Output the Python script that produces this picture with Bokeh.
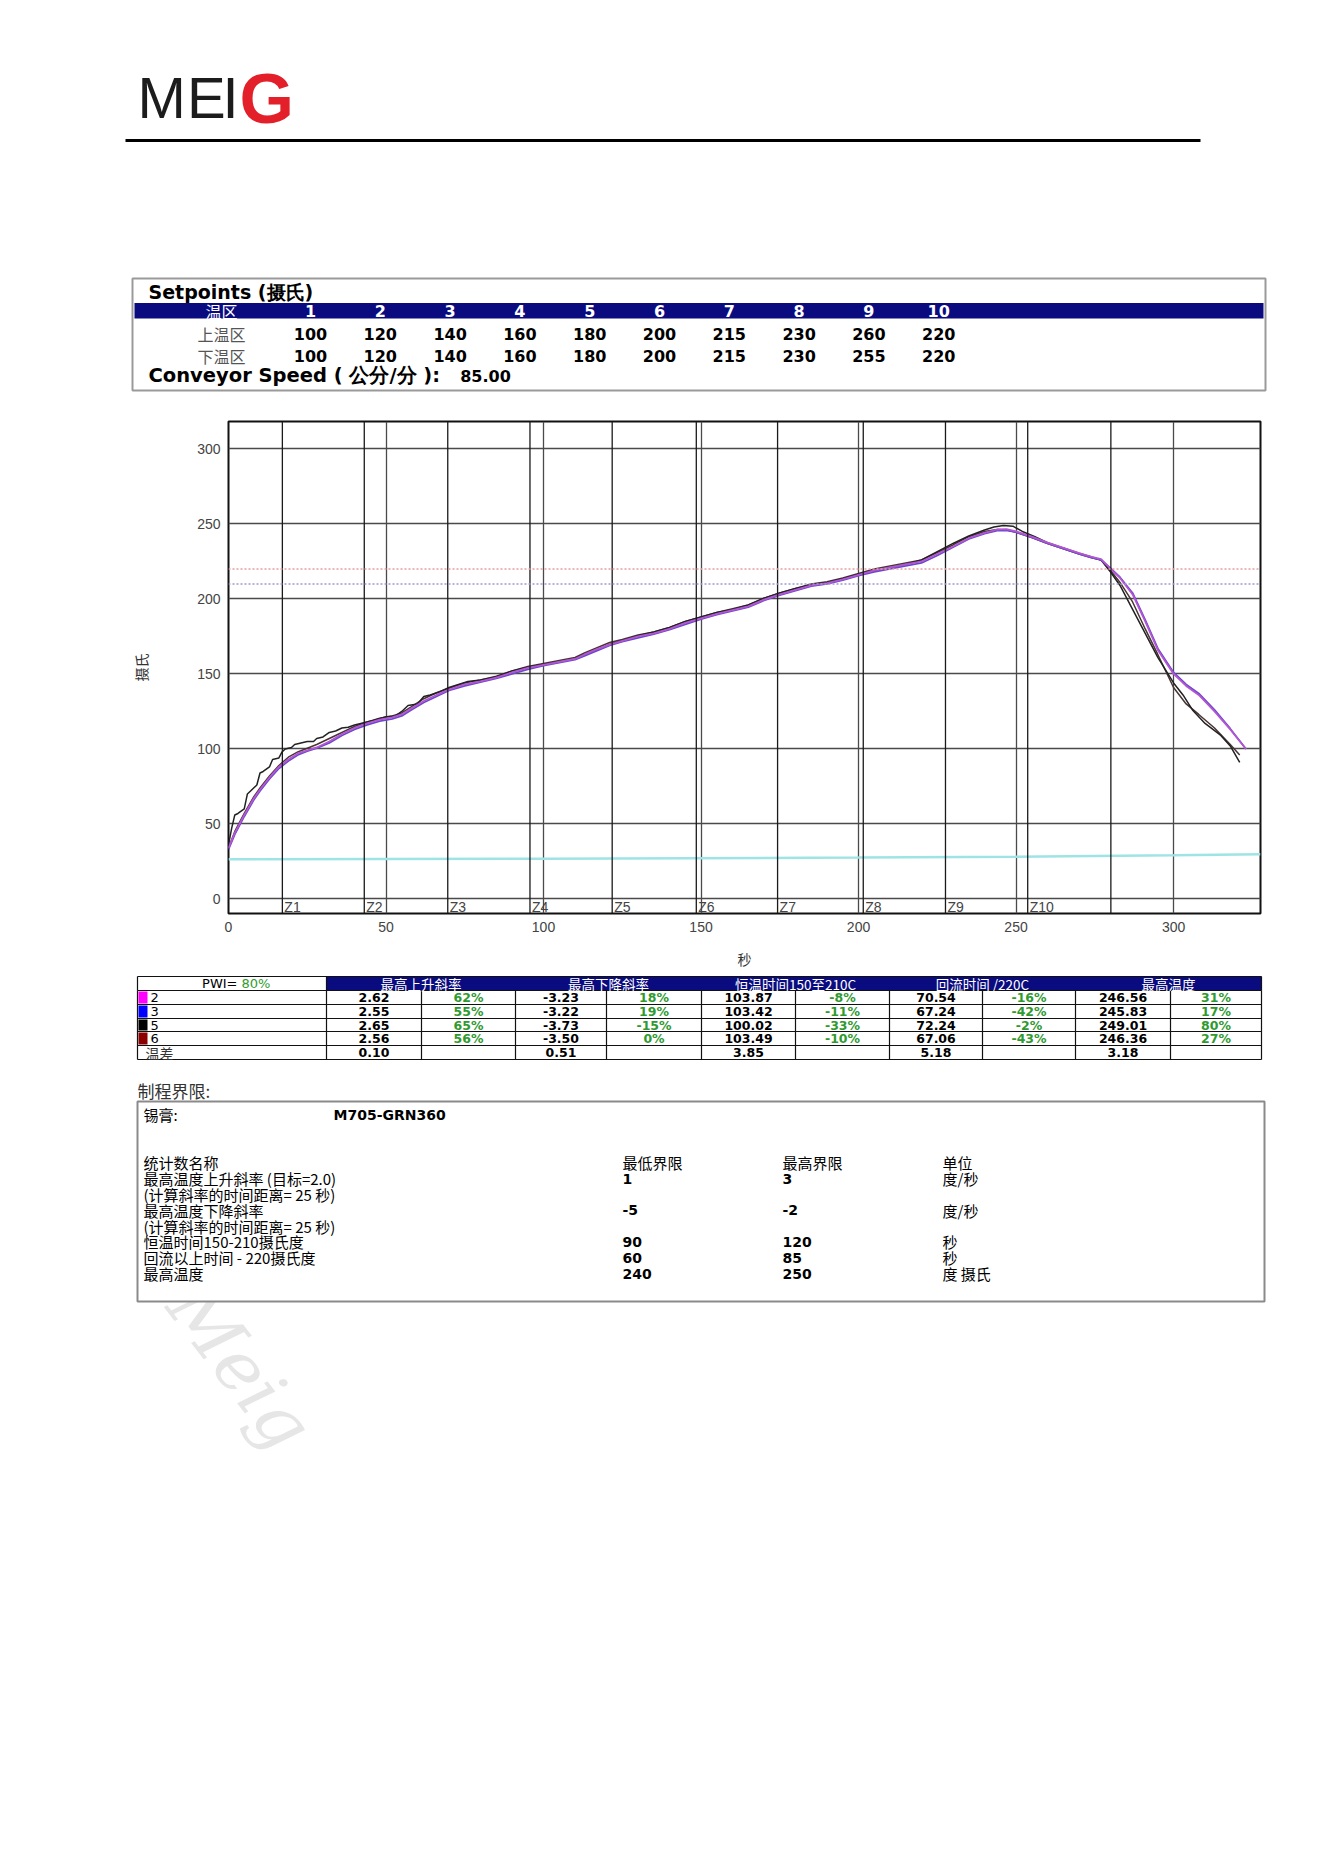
from bokeh.plotting import figure
from bokeh.models import Range1d, Span, FixedTicker
from bokeh.embed import file_html
from bokeh.resources import INLINE
from bokeh.core.properties import value

# ------------------------------------------------------------------ data
ZONES = ["1", "2", "3", "4", "5", "6", "7", "8", "9", "10"]
UPPER_SET = [100, 120, 140, 160, 180, 200, 215, 230, 260, 220]
LOWER_SET = [100, 120, 140, 160, 180, 200, 215, 230, 255, 220]
CONVEYOR_SPEED = "85.00"

T_PURPLE = [0, 2, 5, 8, 10,
            13, 16, 19, 22, 25,
            28, 32, 36, 40, 44,
            48, 52, 55, 58, 62,
            66, 70, 75, 80, 85,
            90, 95, 100, 105, 110,
            113, 117, 121, 125, 130,
            135, 140, 145, 150, 155,
            160, 165, 170, 175, 180,
            185, 190, 195, 200, 205,
            210, 215, 220, 225, 230,
            235, 240, 244, 247, 250,
            255, 260, 265, 270, 274,
            277, 280, 283, 287, 291,
            295, 300, 304, 308, 313,
            318, 323]
PROBE2 = [34, 44, 56, 67, 73,
          81, 88, 93, 97, 99,
          101, 105, 110, 114, 117,
          119.5, 121, 123, 127, 132,
          136, 139.5, 143, 145, 147.5,
          151, 154, 156, 158, 160,
          163, 166.5, 169.5, 172, 175,
          177, 180, 184, 187, 190,
          192.5, 195, 199.5, 203, 206,
          209, 210.5, 213, 216, 219,
          221, 223, 225, 230, 235,
          240.5, 244, 246.3, 246.5, 245,
          241.5, 237.5, 234, 230.5, 228,
          226.5, 220, 214, 203, 185,
          166, 150, 142, 136, 125,
          113, 100]
PROBE3 = [33, 43, 55, 66, 72,
          80, 87, 92, 96, 98.5,
          100.5, 104, 109, 113, 116,
          118.5, 120, 122, 126, 131,
          135, 139, 142, 144.5, 147,
          150, 153, 155.5, 157.5, 159.5,
          162, 165.5, 169, 171.5, 174,
          176.5, 179.5, 183, 186.5, 189.5,
          192, 194.5, 199, 202.5, 205.5,
          208.5, 210, 212.5, 215.5, 218,
          220, 222, 224, 229, 234.5,
          240, 243.5, 245.5, 245.8, 244.5,
          241, 237, 233.5, 230, 227.5,
          226, 220.5, 214.5, 204, 186,
          167, 151, 143, 137, 126,
          113.5, 100]
T_DARK = [0, 2, 5, 8, 10,
          13, 16, 19, 22, 25,
          28, 32, 36, 40, 44,
          48, 52, 55, 58, 62,
          66, 70, 75, 80, 85,
          90, 95, 100, 105, 110,
          113, 117, 121, 125, 130,
          135, 140, 145, 150, 155,
          160, 165, 170, 175, 180,
          185, 190, 195, 200, 205,
          210, 215, 220, 225, 230,
          235, 240, 244, 247, 250,
          255, 260, 265, 270, 274,
          277, 280, 283, 287, 291,
          295, 300, 304, 308, 313,
          318, 321]
PROBE6 = [34, 45, 57, 68, 74,
          82, 89, 94.5, 98, 100.5,
          103, 107, 111, 115, 118,
          120.5, 122, 124, 128, 133.5,
          137.5, 140.5, 144, 146, 148.5,
          152, 155, 157, 159, 161,
          164, 167.5, 171, 173, 176,
          178, 181, 185, 188, 191,
          193.5, 196, 200.5, 204, 207,
          210, 211.5, 214, 217, 220,
          222, 224, 226, 231, 236,
          241.5, 245, 246.3, 246, 244.5,
          241, 237, 233.5, 230, 227.5,
          226, 219, 211, 198, 180,
          163, 141, 130, 123, 114,
          103, 96]
T_PROBE5 = [0, 1, 2, 3, 5,
            6, 7, 9, 10, 11,
            13, 14, 16, 17, 18,
            20, 21, 23, 25, 27,
            28, 30, 32, 34, 36,
            38, 40, 43, 46, 50,
            53, 55, 57, 60, 62,
            64, 67, 70, 73, 76,
            80, 85, 90, 95, 100,
            105, 110, 114, 118, 122,
            126, 130, 135, 140, 145,
            150, 155, 160, 165, 170,
            175, 180, 185, 190, 195,
            200, 205, 210, 215, 220,
            225, 230, 235, 240, 243,
            246, 249, 252, 256, 260,
            265, 270, 274, 277, 280,
            283, 287, 291, 295, 300,
            303, 306, 310, 315, 318,
            321]
PROBE5 = [36, 47, 56, 57, 60,
          70, 72, 76, 84, 85,
          88, 93, 94, 98, 100,
          101, 103, 104, 105, 105,
          107, 108, 111, 112, 114,
          114.5, 116, 117.5, 119, 121.5,
          122, 125, 129, 130, 135,
          136, 138, 141, 143, 145,
          146, 148, 152, 154.5, 156.5,
          158, 160, 164, 167, 170.5,
          173, 175.5, 178, 181, 185,
          188, 191, 193, 196, 200.5,
          204, 207, 209.5, 211, 213.5,
          216.5, 219, 221, 223, 226,
          231.5, 237, 242, 246, 248,
          249, 248.5, 245, 241.5, 237.5,
          234, 230.5, 228, 226, 218,
          209, 193, 177, 161, 144,
          136, 126, 117, 109, 102,
          91]
T_AMBIENT = [0, 100, 200, 250, 300, 327.6]
AMBIENT = [26.5, 26.8, 27.6, 28.2, 29.2, 29.8]

ZONE_EDGES = [17.1, 43.1, 69.6, 95.7, 121.8, 148.5, 174.3, 201.5, 227.6, 253.7, 280.1]
ZONE_LABELS = ["Z1", "Z2", "Z3", "Z4", "Z5", "Z6", "Z7", "Z8", "Z9", "Z10"]
REF_LINES = [220, 210]
X_TICKS = [0, 50, 100, 150, 200, 250, 300]
Y_TICKS = [0, 50, 100, 150, 200, 250, 300]

PWI = "80%"
PROBES = ["2", "3", "5", "6"]
PROBE_COLORS = ["#ff00ff", "#0000ff", "#000000", "#8b0000"]
STAT_HEADERS = ["最高上升斜率", "最高下降斜率", "恒温时间150至210C", "回流时间 /220C", "最高温度"]
RISE = [2.62, 2.55, 2.65, 2.56]
RISE_PWI = ["62%", "55%", "65%", "56%"]
FALL = [-3.23, -3.22, -3.73, -3.50]
FALL_PWI = ["18%", "19%", "-15%", "0%"]
SOAK = [103.87, 103.42, 100.02, 103.49]
SOAK_PWI = ["-8%", "-11%", "-33%", "-10%"]
TAL = [70.54, 67.24, 72.24, 67.06]
TAL_PWI = ["-16%", "-42%", "-2%", "-43%"]
PEAK = [246.56, 245.83, 249.01, 246.36]
PEAK_PWI = ["31%", "17%", "80%", "27%"]
DELTA = [0.10, 0.51, 3.85, 5.18, 3.18]

PASTE = "M705-GRN360"
LIMIT_HEAD = ["统计数名称", "最低界限", "最高界限", "单位"]
LIMIT_NAMES = ["最高温度上升斜率 (目标=2.0)", "(计算斜率的时间距离= 25 秒)", "最高温度下降斜率",
               "(计算斜率的时间距离= 25 秒)", "恒温时间150-210摄氏度", "回流以上时间 - 220摄氏度", "最高温度"]
LIMIT_LOW = ["1", "", "-5", "", "90", "60", "240"]
LIMIT_HIGH = ["3", "", "-2", "", "120", "85", "250"]
LIMIT_UNIT = ["度/秒", "", "度/秒", "", "秒", "秒", "度 摄氏"]

# ------------------------------------------------------------------ style
SANS = "Liberation Sans"
WIDE = "DejaVu Sans"
CJK = "Noto Sans CJK SC"
NAVY = "#0b0b80"
GREEN = "#2f9a2f"
OFF = 0          # page origin inside the window
W = 1316


def page_fig(top, bottom):
    f = figure(width=W, height=bottom - top, x_range=Range1d(OFF, OFF + W),
               y_range=Range1d(bottom, top), output_backend="svg",
               toolbar_location=None, min_border=0,
               x_axis_location=None, y_axis_location=None)
    f.grid.visible = False
    f.outline_line_color = None
    return f


def txt(f, xs, ys, texts, size="13px", color="black", align="left",
        baseline="middle", font=SANS, style="normal", angle=0.0):
    f.text(x=xs, y=ys, text=texts, text_font=value(font), text_font_size=value(size),
           text_color=color, text_align=align, text_baseline=baseline,
           text_font_style=style, angle=angle)


# ------------------------------------------------------------------ header + setpoints
fa = page_fig(OFF, 400)
txt(fa, [137, 186.5, 222], 97, ["M", "E", "I"], size="58px", color="#1c1c1c")
txt(fa, [239], 98, ["G"], size="70px", color="#e3202a", style="bold")
fa.segment(x0=[125], y0=[140], x1=[1200], y1=[140], line_color="black", line_width=3)

fa.quad(left=[132], right=[1265], top=[278], bottom=[390], fill_color="white",
        line_color="#9a9a9a", line_width=2)
fa.quad(left=[134], right=[1263], top=[302.5], bottom=[318], fill_color=NAVY,
        line_color=None)
txt(fa, [148], 291, ["Setpoints (摄氏)"], size="19px", style="bold", font=WIDE)
sp_x = [310 + 69.8 * i for i in range(len(ZONES))]
txt(fa, [221], 310, ["温区"], size="16px", color="white", align="center", font=CJK)
txt(fa, sp_x, 310, ZONES, size="16px", color="white", align="center", style="bold",
    font=WIDE)
txt(fa, [221, 221], [333, 355], ["上温区", "下温区"], size="16px", color="#555",
    align="center", font=CJK)
txt(fa, sp_x, 333, [str(v) for v in UPPER_SET], size="16px", align="center",
    style="bold", font=WIDE)
txt(fa, sp_x, 355, [str(v) for v in LOWER_SET], size="16px", align="center",
    style="bold", font=WIDE)
txt(fa, [148], 375, ["Conveyor Speed ( 公分/分 ):"], size="19.5px", style="bold",
    font=WIDE)
txt(fa, [485], 375, [CONVEYOR_SPEED], size="16px", align="center", style="bold",
    font=WIDE)

# ------------------------------------------------------------------ profile chart
BOTTOM_BORDER = 62
p = figure(frame_width=1032, frame_height=492, x_range=Range1d(0, 327.6),
           y_range=Range1d(-9.7, 318.3), min_border_left=228 - OFF, min_border_right=56,
           min_border_top=21, min_border_bottom=BOTTOM_BORDER, output_backend="svg",
           toolbar_location=None, x_axis_label="秒", y_axis_label="摄氏")
p.outline_line_color = "#111111"
p.outline_line_width = 2
p.xaxis.ticker = FixedTicker(ticks=X_TICKS)
p.yaxis.ticker = FixedTicker(ticks=Y_TICKS)
p.xgrid.ticker = FixedTicker(ticks=X_TICKS)
p.ygrid.ticker = FixedTicker(ticks=Y_TICKS)
for g in (p.xgrid, p.ygrid):
    g.grid_line_color = "#4a4a4a"
    g.grid_line_width = 1.3
p.axis.major_tick_line_color = None
p.axis.minor_tick_line_color = None
p.axis.axis_line_color = None
p.axis.major_label_text_font = SANS
p.axis.major_label_text_font_size = "14px"
p.axis.major_label_text_color = "#444444"
p.xaxis.major_label_standoff = 2
p.yaxis.major_label_standoff = 2
p.axis.axis_label_text_font = CJK
p.axis.axis_label_text_font_style = "normal"
p.axis.axis_label_text_font_size = "14px"
p.axis.axis_label_text_color = "#333333"
p.yaxis.axis_label_standoff = 43
p.xaxis.axis_label_standoff = 14

for z in ZONE_EDGES:
    p.add_layout(Span(location=z, dimension="height", line_color="#1a1a1a", line_width=1.3))
p.add_layout(Span(location=REF_LINES[0], dimension="width", line_color="#e7a0a0",
                  line_dash="2 2", line_width=1.5))
p.add_layout(Span(location=REF_LINES[1], dimension="width", line_color="#9c9cd0",
                  line_dash="2 2", line_width=1.5))

p.text(x=ZONE_EDGES[:len(ZONE_LABELS)], y=-5.3, text=ZONE_LABELS, x_offset=2,
       text_font=value(SANS), text_font_size=value("14px"), text_color="#444444",
       text_baseline="middle", text_align="left")

p.line(T_AMBIENT, AMBIENT, line_color="#9fe4e4", line_width=2.5)
p.line(T_DARK, PROBE6, line_color="#4a3434", line_width=1.5)
p.line(T_PROBE5, PROBE5, line_color="#222222", line_width=1.5)
p.line(T_PURPLE, PROBE3, line_color="#6a48cc", line_width=1.8)
p.line(T_PURPLE, PROBE2, line_color="#b455d2", line_width=1.8)

# ------------------------------------------------------------------ result table + limits
FC_TOP = 400 + 21 + 492 + BOTTOM_BORDER
fc = page_fig(FC_TOP, 1520)

# watermark (behind the limits box)
txt(fc, [184], 1292, ["Meig"], size="72px", color="#e6e6e6", baseline="alphabetic",
    font="DejaVu Serif", style="italic", angle=-0.92)

COLX = [137, 326, 421, 515, 606, 701, 795, 889, 982, 1075, 1170, 1261]
ROWY = [976, 990, 1004, 1018, 1031, 1045, 1059]
fc.quad(left=[COLX[1]], right=[COLX[-1]], top=[ROWY[0]], bottom=[ROWY[1]],
        fill_color=NAVY, line_color=None)
sw_top = ROWY[1:1 + len(PROBES)]
sw_bot = ROWY[2:2 + len(PROBES)]
fc.quad(left=[COLX[0] + 1] * len(PROBES), right=[COLX[0] + 10] * len(PROBES),
        top=[t + 1 for t in sw_top], bottom=[b - 1 for b in sw_bot],
        fill_color=PROBE_COLORS, line_color=None)
fc.segment(x0=[COLX[0]] * len(ROWY), y0=ROWY, x1=[COLX[-1]] * len(ROWY), y1=ROWY,
           line_color="#111111", line_width=1.2)
fc.segment(x0=COLX, y0=[ROWY[1]] * len(COLX), x1=COLX, y1=[ROWY[-1]] * len(COLX),
           line_color="#111111", line_width=1.2)
fc.segment(x0=[COLX[0], COLX[1], COLX[-1]], y0=[ROWY[0]] * 3,
           x1=[COLX[0], COLX[1], COLX[-1]], y1=[ROWY[1]] * 3,
           line_color="#111111", line_width=1.2)

rc = [(ROWY[i] + ROWY[i + 1]) / 2 for i in range(len(ROWY) - 1)]
txt(fc, [237], rc[0], ["PWI="], size="13px", align="right", font=WIDE)
txt(fc, [241], rc[0], [PWI], size="13px", color=GREEN, font=WIDE)
grp_c = [(COLX[1 + 2 * g] + COLX[3 + 2 * g]) / 2 for g in range(5)]
txt(fc, grp_c, rc[0], STAT_HEADERS, size="13.5px", color="white", align="center",
    font=CJK)

txt(fc, [COLX[0] + 13] * len(PROBES), rc[1:1 + len(PROBES)], PROBES, size="13px",
    font=WIDE)
txt(fc, [COLX[0] + 8], rc[-1], ["温差"], size="14px", font=CJK, color="#333")

stats = [(RISE, RISE_PWI), (FALL, FALL_PWI), (SOAK, SOAK_PWI), (TAL, TAL_PWI),
         (PEAK, PEAK_PWI)]
for g, (vals, pcts) in enumerate(stats):
    cv = (COLX[1 + 2 * g] + COLX[2 + 2 * g]) / 2
    cp = (COLX[2 + 2 * g] + COLX[3 + 2 * g]) / 2
    txt(fc, [cv] * len(vals), rc[1:1 + len(vals)], ["%.2f" % v for v in vals],
        size="12.5px", align="center", style="bold", font=WIDE)
    txt(fc, [cp] * len(pcts), rc[1:1 + len(pcts)], pcts, size="12.5px", align="center",
        style="bold", color=GREEN, font=WIDE)
    txt(fc, [cv], rc[-1], ["%.2f" % DELTA[g]], size="12.5px", align="center",
        style="bold", font=WIDE)

# limits
txt(fc, [137], 1090, ["制程界限:"], size="17px", font=CJK, color="#333")
fc.quad(left=[137], right=[1264], top=[1101], bottom=[1301], fill_color="white",
        line_color="#8a8a8a", line_width=2)
txt(fc, [143], 1114, ["锡膏:"], size="15px", font=CJK)
txt(fc, [333], 1114, [PASTE], size="14px", style="bold", font=WIDE)
LX = [143, 622, 782, 942]
txt(fc, LX, 1162, LIMIT_HEAD, size="15px", font=CJK)
ly = [1178 + 15.85 * i for i in range(len(LIMIT_NAMES))]
txt(fc, [LX[0]] * len(LIMIT_NAMES), ly, LIMIT_NAMES, size="15px", font=CJK)
txt(fc, [LX[1]] * len(LIMIT_LOW), ly, LIMIT_LOW, size="14px", style="bold", font=WIDE)
txt(fc, [LX[2]] * len(LIMIT_HIGH), ly, LIMIT_HIGH, size="14px", style="bold", font=WIDE)
txt(fc, [LX[3]] * len(LIMIT_UNIT), ly, LIMIT_UNIT, size="15px", font=CJK)

open("out.html", "w").write(file_html([fa, p, fc], INLINE))
